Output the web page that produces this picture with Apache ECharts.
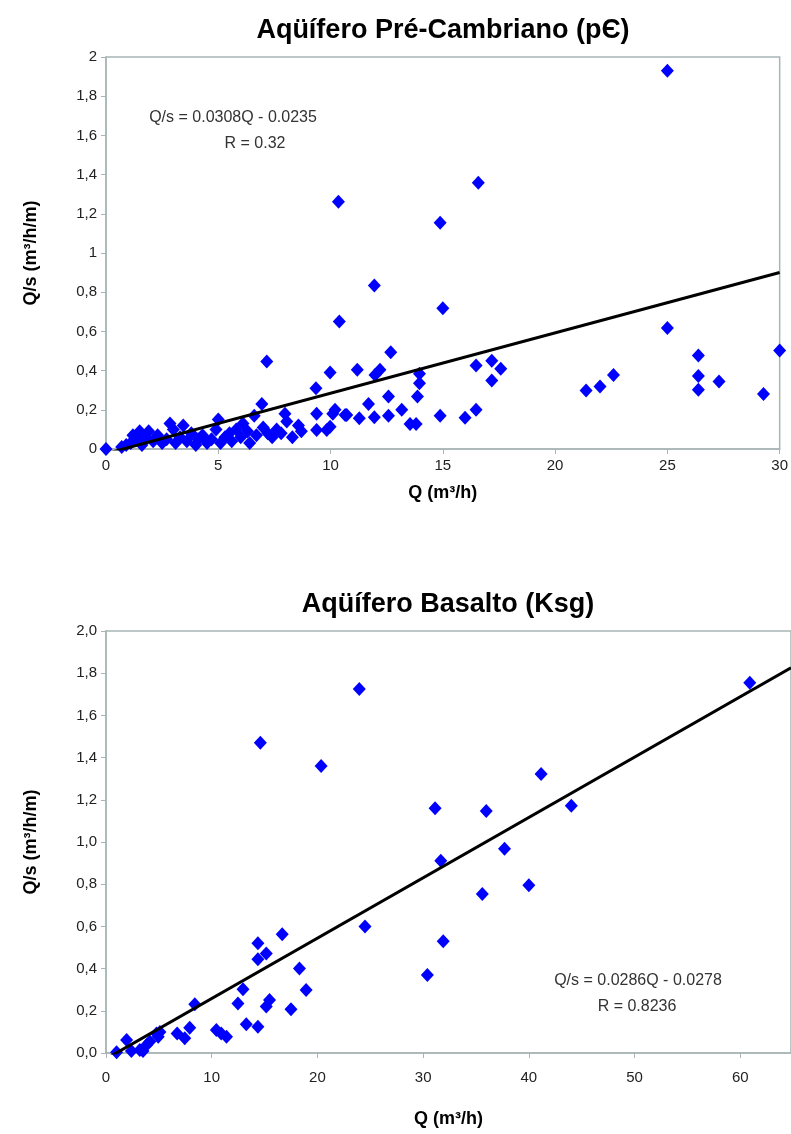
<!DOCTYPE html>
<html><head><meta charset="utf-8">
<script src="https://cdn.jsdelivr.net/npm/echarts@6/dist/echarts.min.js"></script>
<style>html,body{margin:0;padding:0;background:#fff}#c{width:791px;height:1134px}</style>
</head><body><div id="c"></div>
<script>
// ---- Data: Aquífero Pré-Cambriano (pЄ) ----
const preQ = [0,0.7,0.9,1.1,1.2,1.4,1.5,1.6,1.8,1.9,2.1,2.3,2.5,2.7,2.85,3.0,3.1,3.3,3.44,3.6,3.8,4.0,4.1,4.3,4.5,4.7,4.9,5.0,5.1,5.3,5.5,5.6,5.8,6.0,6.1,6.3,6.4,6.6,6.7,6.94,7.0,7.16,7.2,7.4,7.6,7.8,7.97,8.05,8.3,8.57,8.7,9.35,9.38,9.38,9.83,9.98,9.98,10.1,10.2,10.35,10.39,10.65,10.72,11.19,11.28,11.69,11.95,11.95,11.98,12.2,12.58,12.58,12.68,13.17,13.54,13.81,13.87,13.96,13.96,14.88,14.88,15.0,15.99,16.48,16.48,16.58,17.18,17.18,17.58,21.38,22.0,22.6,25.0,25.0,26.38,26.38,26.38,27.3,29.28,30.0];
const preQs = [0,0.01,0.02,0.03,0.07,0.05,0.09,0.02,0.06,0.09,0.04,0.07,0.03,0.05,0.13,0.1,0.03,0.06,0.12,0.04,0.08,0.02,0.05,0.07,0.03,0.05,0.1,0.15,0.03,0.06,0.08,0.04,0.1,0.06,0.13,0.09,0.03,0.17,0.07,0.23,0.11,0.447,0.08,0.06,0.1,0.08,0.18,0.14,0.06,0.12,0.09,0.31,0.18,0.097,0.097,0.39,0.114,0.18,0.2,1.262,0.65,0.174,0.174,0.404,0.157,0.23,0.834,0.162,0.378,0.404,0.268,0.17,0.494,0.2,0.128,0.128,0.268,0.384,0.336,1.154,0.17,0.718,0.16,0.426,0.2,1.359,0.45,0.349,0.409,0.298,0.319,0.378,1.93,0.617,0.477,0.373,0.302,0.344,0.28,0.503];
const preTrend = {slope: 0.0308, intercept: -0.0235, R: 0.32, from: 0, to: 30};

// ---- Data: Aquífero Basalto (Ksg) ----
const basQ = [1.0,1.95,2.4,3.2,3.5,3.84,4.15,4.78,4.94,5.1,6.73,7.45,7.92,8.4,10.44,10.9,11.4,12.48,12.96,13.27,14.37,14.37,14.37,14.6,15.16,15.16,15.47,16.67,17.5,18.3,18.93,20.35,23.96,24.5,30.4,31.13,31.67,31.9,35.6,35.97,37.7,40.0,41.16,44.02,60.9];
const basQs = [0.003,0.062,0.01,0.014,0.01,0.038,0.054,0.093,0.077,0.1,0.093,0.07,0.12,0.231,0.109,0.093,0.077,0.235,0.302,0.136,0.125,0.52,0.444,1.47,0.472,0.22,0.251,0.563,0.207,0.401,0.298,1.36,1.725,0.60,0.37,1.16,0.911,0.53,0.754,1.147,0.968,0.795,1.322,1.172,1.755];
const basTrend = {slope: 0.0286, intercept: -0.0278, R: 0.8236, from: 0, to: 64.8};

// tick label sets
const preYTicks = ['0','0,2','0,4','0,6','0,8','1','1,2','1,4','1,6','1,8','2'];
const basYTicks = ['0,0','0,2','0,4','0,6','0,8','1,0','1,2','1,4','1,6','1,8','2,0'];

const zip = (a,b) => a.map((v,i)=>[v,b[i]]);
const trendPts = t => [[t.from, t.slope*t.from+t.intercept],[t.to, t.slope*t.to+t.intercept]];

const FONT = 'Liberation Sans, Arial, sans-serif';
const axisGray = '#a9b5b5';
const chart = echarts.init(document.getElementById('c'), null, {renderer:'canvas'});

function xAxis(gi, max, interval, labelMargin, nameGap){
  return {
    gridIndex: gi, type:'value', min:0, max:max, interval:interval,
    name:'Q (m³/h)', nameLocation:'middle', nameGap: nameGap,
    nameTextStyle:{fontFamily:FONT, fontWeight:'bold', fontSize:18, color:'#000'},
    axisLine:{show:true, lineStyle:{color:axisGray, width:1.5}},
    axisTick:{show:true, length:5, lineStyle:{color:axisGray}},
    axisLabel:{fontFamily:FONT, fontSize:15, color:'#222', margin:labelMargin, showMaxLabel: gi===0},
    splitLine:{show:false}
  };
}
function yAxis(gi, labels){
  return {
    gridIndex: gi, type:'value', min:0, max:2, interval:0.2,
    name:'Q/s (m³/h/m)', nameLocation:'middle', nameGap: 66, nameRotate: 90,
    nameTextStyle:{fontFamily:FONT, fontWeight:'bold', fontSize:18, color:'#000'},
    axisLine:{show:true, lineStyle:{color:axisGray, width:1.5}},
    axisTick:{show:true, length:5, lineStyle:{color:axisGray}},
    axisLabel:{fontFamily:FONT, fontSize:15, color:'#222', margin:9,
      formatter: v => labels[Math.round(v/0.2)]},
    splitLine:{show:false}
  };
}

chart.setOption({
  animation:false,
  backgroundColor:'#fff',
  title:[
    {text:'Aqüífero Pré-Cambriano (pЄ)', left:438, top:12, textAlign:'center',
     textStyle:{fontFamily:FONT, fontWeight:'bold', fontSize:27, color:'#000'}},
    {text:'Aqüífero Basalto (Ksg)', left:443, top:586, textAlign:'center',
     textStyle:{fontFamily:FONT, fontWeight:'bold', fontSize:27, color:'#000'}},
    {text:'Q/s = ' + preTrend.slope + 'Q - ' + Math.abs(preTrend.intercept), left:228, top:105, textAlign:'center',
     textStyle:{fontFamily:FONT, fontWeight:'normal', fontSize:16, color:'#333'}},
    {text:'R = ' + preTrend.R, left:250, top:131, textAlign:'center',
     textStyle:{fontFamily:FONT, fontWeight:'normal', fontSize:16, color:'#333'}},
    {text:'Q/s = ' + basTrend.slope + 'Q - ' + Math.abs(basTrend.intercept), left:633, top:968, textAlign:'center',
     textStyle:{fontFamily:FONT, fontWeight:'normal', fontSize:16, color:'#333'}},
    {text:'R = ' + basTrend.R, left:632, top:994, textAlign:'center',
     textStyle:{fontFamily:FONT, fontWeight:'normal', fontSize:16, color:'#333'}}
  ],
  grid:[
    {left:106, top:57, width:674, height:392, show:true, borderColor:axisGray, borderWidth:1.5, backgroundColor:'transparent'},
    {left:106, top:631, width:690, height:422, show:true, borderColor:axisGray, borderWidth:1.5, backgroundColor:'transparent'}
  ],
  xAxis:[xAxis(0,30,5,9,35), xAxis(1,64.8,10,17,57)],
  yAxis:[yAxis(0,preYTicks), yAxis(1,basYTicks)],
  series:[
    {type:'line', xAxisIndex:0, yAxisIndex:0, data:trendPts(preTrend), showSymbol:false, symbol:'none', clip:true,
     lineStyle:{color:'#000', width:3}, z:3},
    {type:'scatter', xAxisIndex:0, yAxisIndex:0, data:zip(preQ,preQs), symbol:'diamond', symbolSize:[13,14],
     itemStyle:{color:'#0000ff', opacity:1}, z:2},
    {type:'line', xAxisIndex:1, yAxisIndex:1, data:trendPts(basTrend), showSymbol:false, symbol:'none', clip:true,
     lineStyle:{color:'#000', width:3}, z:3},
    {type:'scatter', xAxisIndex:1, yAxisIndex:1, data:zip(basQ,basQs), symbol:'diamond', symbolSize:[13,14],
     itemStyle:{color:'#0000ff', opacity:1}, z:2}
  ]
});
</script></body></html>
